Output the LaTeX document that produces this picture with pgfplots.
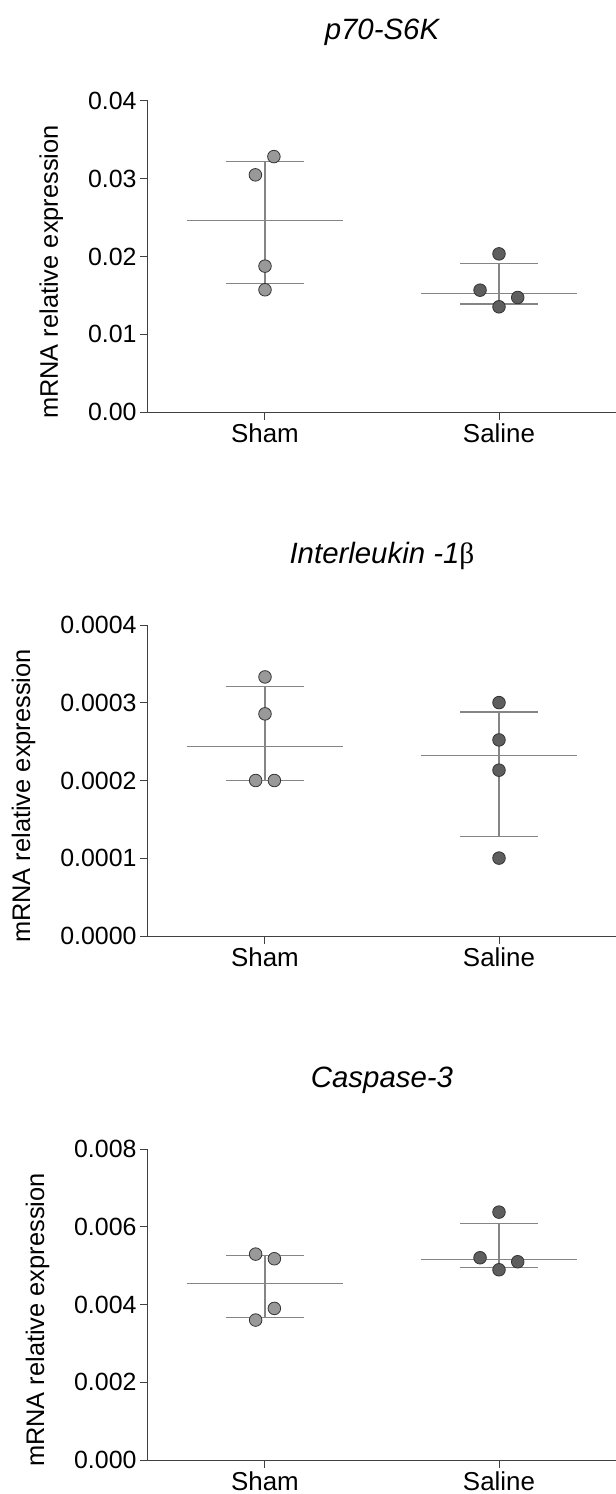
\documentclass[border=0pt]{standalone}
\usepackage{fontspec}
\setmainfont{Liberation Sans}
\newfontfamily\serifgreek{Liberation Serif}
\usepackage{pgfplots}
\pgfplotsset{compat=1.18}
\definecolor{shamfill}{HTML}{999999}
\definecolor{salfill}{HTML}{5E5E5E}
\definecolor{edgec}{HTML}{333333}
\definecolor{linec}{HTML}{858585}
\definecolor{axc}{HTML}{404040}
\pgfplotsset{
 panel/.style={
  width=468bp, height=311bp, scale only axis,
  xmin=-0.5, xmax=1.5, ymin=0,
  axis lines*=left,
  axis line style={axc, line width=1bp},
  tick style={axc, line width=1bp},
  major tick length=8bp,
  tick align=outside,
  xtick={0,1}, xticklabels={Sham,Saline},
  x tick label style={font=\fontsize{26}{30}\selectfont},
  y tick label style={font=\fontsize{25}{30}\selectfont},
  scaled y ticks=false,
  /pgf/number format/assume math mode=true,
  ylabel={mRNA relative expression},
  ylabel style={font=\fontsize{25.5}{30}\selectfont, at={(ticklabel cs:0.45,18bp)}},
  title style={font=\fontsize{29.5}{34}\selectfont\itshape, at={(axis description cs:0.5,1)}, anchor=base, yshift=56bp},
 },
 med/.style={linec, line width=1.2bp, no marks},
 sham/.style={only marks, mark=*, mark size=6.3bp, mark options={fill=shamfill, draw=edgec, line width=0.8bp}},
 sal/.style={only marks, mark=*, mark size=6.3bp, mark options={fill=salfill, draw=edgec, line width=0.8bp}},
}
\begin{document}
\begin{tikzpicture}
\useasboundingbox (-148bp,-1082bp) rectangle (468bp,412bp);
% Panel 1
\begin{axis}[panel, at={(0,0)}, ymax=0.04, ytick={0,0.01,0.02,0.03,0.04},
  yticklabel style={/pgf/number format/.cd, fixed, fixed zerofill, precision=2},
  title={p70-S6K}]
\addplot[med] coordinates {(-0.332,0.02463) (0.332,0.02463)};
\addplot[med] coordinates {(0,0.01653) (0,0.03225)};
\addplot[med] coordinates {(-0.167,0.03225) (0.167,0.03225)};
\addplot[med] coordinates {(-0.167,0.01653) (0.167,0.01653)};
\addplot[med] coordinates {(0.668,0.0152) (1.332,0.0152)};
\addplot[med] coordinates {(1,0.01388) (1,0.01914)};
\addplot[med] coordinates {(0.833,0.01914) (1.167,0.01914)};
\addplot[med] coordinates {(0.833,0.01388) (1.167,0.01388)};
\addplot[sham] coordinates {(0.038,0.03285) (-0.041,0.0305) (0,0.01876) (0,0.01572)};
\addplot[sal] coordinates {(1,0.02034) (0.919,0.01567) (1.080,0.01473) (1,0.01353)};
\end{axis}
% Panel 2
\begin{axis}[panel, at={(0,-524bp)}, ymax=0.0004, ytick={0,0.0001,0.0002,0.0003,0.0004},
  yticklabel style={/pgf/number format/.cd, fixed, fixed zerofill, precision=4},
  title={Interleukin -1{\upshape\serifgreek β}}]
\addplot[med] coordinates {(-0.332,0.0002433) (0.332,0.0002433)};
\addplot[med] coordinates {(0,0.0002) (0,0.0003212)};
\addplot[med] coordinates {(-0.167,0.0003212) (0.167,0.0003212)};
\addplot[med] coordinates {(-0.167,0.0002) (0.167,0.0002)};
\addplot[med] coordinates {(0.668,0.0002321) (1.332,0.0002321)};
\addplot[med] coordinates {(1,0.000128) (1,0.0002882)};
\addplot[med] coordinates {(0.833,0.0002882) (1.167,0.0002882)};
\addplot[med] coordinates {(0.833,0.000128) (1.167,0.000128)};
\addplot[sham] coordinates {(0,0.0003332) (0,0.0002857) (-0.04,0.0002) (0.04,0.0002)};
\addplot[sal] coordinates {(1,0.0003002) (1,0.0002522) (1,0.0002133) (1,0.0001002)};
\end{axis}
% Panel 3
\begin{axis}[panel, at={(0,-1048bp)}, ymax=0.008, ytick={0,0.002,0.004,0.006,0.008},
  yticklabel style={/pgf/number format/.cd, fixed, fixed zerofill, precision=3},
  title={Caspase-3}]
\addplot[med] coordinates {(-0.332,0.004534) (0.332,0.004534)};
\addplot[med] coordinates {(0,0.003669) (0,0.005263)};
\addplot[med] coordinates {(-0.167,0.005263) (0.167,0.005263)};
\addplot[med] coordinates {(-0.167,0.003669) (0.167,0.003669)};
\addplot[med] coordinates {(0.668,0.005151) (1.332,0.005151)};
\addplot[med] coordinates {(1,0.004954) (1,0.006077)};
\addplot[med] coordinates {(0.833,0.006077) (1.167,0.006077)};
\addplot[med] coordinates {(0.833,0.004954) (1.167,0.004954)};
\addplot[sham] coordinates {(-0.04,0.005297) (0.04,0.005177) (0.04,0.0039) (-0.04,0.0036)};
\addplot[sal] coordinates {(1,0.006377) (0.919,0.005203) (1.08,0.0051) (1,0.004894)};
\end{axis}
\end{tikzpicture}
\end{document}
